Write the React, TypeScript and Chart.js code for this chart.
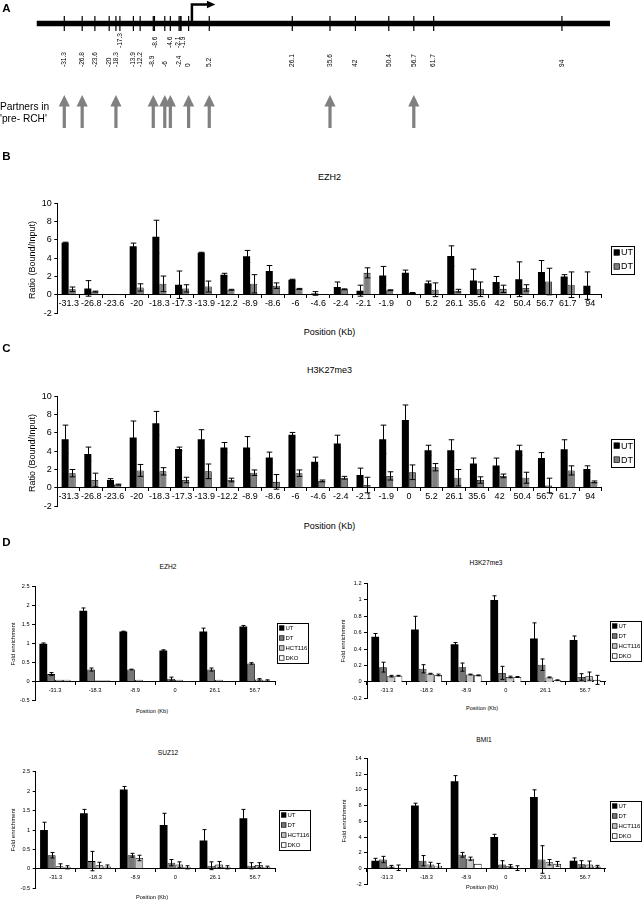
import React, { useEffect, useRef } from 'react';
import { Chart, registerables } from 'chart.js';
Chart.register(...registerables);

const FONT = '"Liberation Sans", Arial, Helvetica, sans-serif';

// ---------- Panel A : map ----------
const MAP_LABELS = ['-31.3','-26.8','-23.6','-20','-18.3','-17.3','-13.9','-12.2','-8.9','-8.6','-6','-4.6','-2.4','-2.1','-1.9','0','5.2','26.1','35.6','42','50.4','56.7','61.7','94'];
const MAP_POS = [-31.3,-26.8,-23.6,-20,-18.3,-17.3,-13.9,-12.2,-8.9,-8.6,-6,-4.6,-2.4,-2.1,-1.9,0,5.2,26.1,35.6,42,50.4,56.7,61.7,94];
const UPPER_ROW = ['-17.3','-8.6','-4.6','-2.1','-1.9'];
const PARTNERS = [-31.3,-26.8,-18.3,-8.9,-6,-4.6,0,5.2,35.6,56.7];
const MAP_START = -38.3;
const MAP_END = 106.1;

// ---------- Panel B : EZH2 ----------
const EZH2_UT = [5.7,0.7,0.03,5.3,6.35,1.1,4.6,2.2,4.2,2.6,1.65,0.15,0.85,0.45,2.1,2.4,1.25,4.25,1.55,1.4,1.7,2.5,2.0,1.0];
const EZH2_UT_ERR = [0.05,0.85,0,0.35,1.8,1.5,0.05,0.15,0.65,0.6,0.05,0.2,0.55,0.6,1.0,0.3,0.25,1.1,1.25,0.6,1.9,1.25,0.2,1.5];
const EZH2_DT = [0.6,0.35,0.03,0.8,1.2,0.7,0.9,0.55,1.2,1.0,0.65,0.02,0.6,2.4,0.5,0.2,0.55,0.45,0.6,0.65,0.75,1.45,1.1,0];
const EZH2_DT_ERR = [0.25,0.05,0,0.4,0.85,0.4,0.6,0.05,1.0,0.3,0.05,0,0.05,0.55,0.05,0.05,0.75,0.15,0.8,0.4,0.35,1.45,1.4,0];

// ---------- Panel C : H3K27me3 ----------
const H3_UT = [5.3,3.7,0.85,5.5,7.05,4.25,5.3,4.4,4.4,3.3,5.8,2.85,4.85,1.4,5.3,7.4,4.1,4.1,2.65,2.45,4.1,3.25,4.2,2.05];
const H3_UT_ERR = [1.55,0.75,0.15,1.8,1.3,0.2,1.05,0.55,1.2,0.6,0.25,0.5,0.9,0.75,1.55,1.65,0.55,1.15,0.6,0.8,0.55,0.6,1.05,0.35];
const H3_DT = [1.6,0.85,0.35,1.9,1.8,0.85,1.8,0.85,1.65,0.65,1.6,0.75,1.1,0.3,1.3,1.7,2.25,1.1,0.85,1.3,1.1,0.25,1.9,0.65];
const H3_DT_ERR = [0.4,0.75,0.05,0.65,0.4,0.3,0.8,0.2,0.3,0.8,0.35,0.1,0.15,0.85,0.45,0.8,0.4,0.9,0.35,0.2,0.6,0.8,0.5,0.1];

// ---------- Panel D ----------
const D_LABELS = ['-31.3','-18.3','-8.9','0','26.1','56.7'];
const D_SERIES = ['UT','DT','HCT116','DKO'];

const D_EZH2_UT = [1.0,1.87,1.32,0.82,1.32,1.45];
const D_EZH2_UT_ERR = [0.02,0.07,0.01,0.02,0.09,0.03];
const D_EZH2_DT = [0.2,0.32,0.32,0.08,0.32,0.48];
const D_EZH2_DT_ERR = [0.04,0.04,0.01,0.04,0.04,0.02];
const D_EZH2_HCT = [0.05,0.03,0.05,0.05,0.05,0.06];
const D_EZH2_HCT_ERR = [0,0,0,0,0,0.02];
const D_EZH2_DKO = [0.05,0.03,0.01,0.02,0.01,0.03];
const D_EZH2_DKO_ERR = [0,0,0,0,0,0.02];

const D_H3_UT = [0.55,0.64,0.46,1.0,0.53,0.51];
const D_H3_UT_ERR = [0.04,0.16,0.02,0.05,0.19,0.05];
const D_H3_DT = [0.18,0.16,0.18,0.11,0.21,0.06];
const D_H3_DT_ERR = [0.06,0.05,0.05,0.08,0.07,0.04];
const D_H3_HCT = [0.07,0.1,0.09,0.06,0.055,0.07];
const D_H3_HCT_ERR = [0.01,0.005,0.005,0.01,0.005,0.05];
const D_H3_DKO = [0.075,0.085,0.08,0.06,0.02,0.025];
const D_H3_DKO_ERR = [0.005,0.01,0.005,0.005,0.005,0.055];

const D_SUZ_UT = [1.0,1.43,2.04,1.13,0.73,1.3];
const D_SUZ_UT_ERR = [0.2,0.1,0.08,0.3,0.28,0.23];
const D_SUZ_DT = [0.35,0.2,0.35,0.16,0.08,0.08];
const D_SUZ_DT_ERR = [0.07,0.25,0.05,0.08,0.1,0.08];
const D_SUZ_HCT = [0.07,0.09,0.28,0.11,0.11,0.1];
const D_SUZ_HCT_ERR = [0.06,0.08,0.07,0.07,0.08,0.06];
const D_SUZ_DKO = [0.04,0.06,0.02,0.04,0.04,0.04];
const D_SUZ_DKO_ERR = [0.04,0.04,0,0.04,0.04,0.03];

const D_BMI_UT = [1.0,8.0,11.1,4.0,9.1,1.0];
const D_BMI_UT_ERR = [0.3,0.3,0.7,0.35,0.9,0.35];
const D_BMI_DT = [1.15,1.0,1.75,0.5,1.15,0.55];
const D_BMI_DT_ERR = [0.4,0.65,0.3,0.5,1.75,0.45];
const D_BMI_HCT = [0.25,0.5,1.25,0.3,0.8,0.5];
const D_BMI_HCT_ERR = [0.15,0.3,0.2,0.2,0.35,0.45];
const D_BMI_DKO = [0.1,0.35,0.6,0.05,0.6,0.25];
const D_BMI_DKO_ERR = [0.35,0.3,0,0.3,0.3,0.15];

// ---------- plugins ----------
const errorBarsPlugin = {
  id: 'errorBars',
  afterDatasetsDraw(chart: any, _a: any, opts: any) {
    const ctx = chart.ctx;
    const ys = chart.scales.y;
    ctx.save();
    ctx.strokeStyle = opts.color || '#000';
    ctx.lineWidth = opts.lineWidth || 1;
    chart.data.datasets.forEach((ds: any, di: number) => {
      const errs = ds.errors;
      if (!errs) return;
      const meta = chart.getDatasetMeta(di);
      meta.data.forEach((bar: any, i: number) => {
        const e = errs[i];
        if (!e) return;
        const v = ds.data[i];
        const x = Math.round(bar.x) + 0.5;
        const yt = ys.getPixelForValue(v + e);
        const yb = ys.getPixelForValue(v - e);
        const c = opts.cap;
        ctx.beginPath();
        ctx.moveTo(x, yt); ctx.lineTo(x, yb);
        ctx.moveTo(x - c, yt); ctx.lineTo(x + c, yt);
        ctx.moveTo(x - c, yb); ctx.lineTo(x + c, yb);
        ctx.stroke();
      });
    });
    ctx.restore();
  },
};

const boxLegendPlugin = {
  id: 'boxLegend',
  afterDraw(chart: any, _a: any, o: any) {
    const ctx = chart.ctx;
    ctx.save();
    ctx.lineWidth = 1;
    ctx.strokeStyle = '#000';
    ctx.strokeRect(Math.round(o.x) + 0.5, Math.round(o.y) + 0.5, o.w, o.h);
    const n = chart.data.datasets.length;
    const step = o.h / n;
    ctx.font = `${o.fontSize}px ${FONT}`;
    ctx.textBaseline = 'middle';
    ctx.textAlign = 'left';
    chart.data.datasets.forEach((ds: any, i: number) => {
      const cy = o.y + step * (i + 0.5);
      const sx = o.x + o.padX;
      ctx.fillStyle = ds.backgroundColor;
      ctx.fillRect(sx, cy - o.swatch / 2, o.swatch, o.swatch);
      ctx.lineWidth = 0.7;
      ctx.strokeRect(sx, cy - o.swatch / 2, o.swatch, o.swatch);
      ctx.fillStyle = '#000';
      ctx.fillText(ds.label, sx + o.swatch + 1.5, cy + 0.5);
    });
    ctx.restore();
  },
};

const geneMapPlugin = {
  id: 'geneMap',
  afterDatasetsDraw(chart: any) {
    const ctx = chart.ctx;
    const xs = chart.scales.x;
    ctx.save();
    // transcription start arrow
    const x0 = xs.getPixelForValue(0) + 3.3;
    ctx.strokeStyle = '#000';
    ctx.lineWidth = 2.5;
    ctx.beginPath();
    ctx.moveTo(x0, 21.5);
    ctx.lineTo(x0, 4.5);
    ctx.lineTo(x0 + 16, 4.5);
    ctx.stroke();
    ctx.fillStyle = '#000';
    ctx.beginPath();
    ctx.moveTo(x0 + 15, 0.8);
    ctx.lineTo(x0 + 23.5, 4.5);
    ctx.lineTo(x0 + 15, 8.2);
    ctx.closePath();
    ctx.fill();
    // position labels
    ctx.font = `6.6px ${FONT}`;
    ctx.textAlign = 'left';
    ctx.textBaseline = 'middle';
    const nudge: Record<string, number> = { '-2.1': -2.2, '-1.9': 2.2, '-8.9': -1, '-8.6': 1 };
    MAP_POS.forEach((p, i) => {
      const lab = MAP_LABELS[i];
      const upper = UPPER_ROW.indexOf(lab) >= 0;
      const x = xs.getPixelForValue(p) + (nudge[lab] || 0);
      ctx.save();
      ctx.translate(x, upper ? 48 : 67);
      ctx.rotate(-Math.PI / 2);
      ctx.fillText(lab, 0, 0);
      ctx.restore();
    });
    // partner arrows
    ctx.fillStyle = '#808080';
    PARTNERS.forEach((p) => {
      const x = xs.getPixelForValue(p);
      ctx.fillRect(x - 1.6, 105, 3.2, 23);
      ctx.beginPath();
      ctx.moveTo(x - 5.6, 106.5);
      ctx.lineTo(x, 95);
      ctx.lineTo(x + 5.6, 106.5);
      ctx.closePath();
      ctx.fill();
    });
    ctx.restore();
  },
};

function fmt(v: any) {
  return String(+Number(v).toFixed(2));
}

// ---------- configs ----------
function mapConfig() {
  return {
    type: 'scatter',
    data: {
      datasets: [
        {
          type: 'line',
          data: [{ x: MAP_START, y: 0 }, { x: MAP_END, y: 0 }],
          borderColor: '#000',
          borderWidth: 5.5,
          pointRadius: 0,
          showLine: true,
        },
        {
          type: 'scatter',
          data: MAP_POS.map((p) => ({ x: p, y: 0 })),
          pointStyle: 'line',
          rotation: 90,
          pointRadius: 7.5,
          borderColor: '#000',
          backgroundColor: '#000',
          borderWidth: 1.2,
        },
      ],
    },
    options: {
      animation: false,
      responsive: false,
      devicePixelRatio: 1,
      events: [],
      layout: { autoPadding: false, padding: { left: 36.5, right: 33, top: 13.5, bottom: 131.5 } },
      plugins: { legend: { display: false }, tooltip: { enabled: false } },
      scales: {
        x: { type: 'linear', min: MAP_START, max: MAP_END, display: false },
        y: { min: -1, max: 1, display: false },
      },
    },
    plugins: [geneMapPlugin],
  };
}

type BarOpts = {
  labels: string[];
  series: { label: string; data: number[]; errors: number[]; color: string }[];
  min: number; max: number; step: number;
  yWidth: number; pad: { top: number; right: number; bottom: number };
  tickSize: number; xPad: number; catPct: number; cap: number;
  legend: { x: number; y: number; w: number; h: number; fontSize: number; swatch: number; padX: number };
};

function barConfig(o: BarOpts) {
  return {
    type: 'bar',
    data: {
      labels: o.labels,
      datasets: o.series.map((s) => ({
        label: s.label,
        data: s.data,
        errors: s.errors,
        backgroundColor: s.color,
        borderColor: '#000',
        borderWidth: s.color === '#000000' ? 0 : 0.8,
        categoryPercentage: o.catPct,
        barPercentage: 1,
      })),
    },
    options: {
      animation: false,
      responsive: false,
      devicePixelRatio: 1,
      events: [],
      layout: { autoPadding: false, padding: { left: 0, top: o.pad.top, right: o.pad.right, bottom: o.pad.bottom } },
      plugins: {
        legend: { display: false },
        tooltip: { enabled: false },
        title: { display: false },
        errorBars: { cap: o.cap, color: '#000', lineWidth: 1 },
        boxLegend: o.legend,
      },
      scales: {
        x: {
          type: 'category',
          position: { y: 0 },
          offset: true,
          grid: { display: true, offset: true, drawOnChartArea: false, drawTicks: true, tickLength: 3, color: '#000', lineWidth: 1 },
          border: { display: true, color: '#000', width: 1 },
          ticks: { font: { size: o.tickSize, family: FONT }, color: '#000', padding: o.xPad, maxRotation: 0, minRotation: 0, autoSkip: false },
          afterFit: (s: any) => { s.height = 0; },
        },
        y: {
          min: o.min,
          max: o.max,
          ticks: { stepSize: o.step, font: { size: o.tickSize, family: FONT }, color: '#000', padding: 2.5, callback: (v: any) => fmt(v) },
          grid: { drawOnChartArea: false, drawTicks: true, tickLength: 3, color: '#000', lineWidth: 1 },
          border: { display: true, color: '#000', width: 1 },
          afterFit: (s: any) => { s.width = o.yWidth; },
        },
      },
    },
    plugins: [errorBarsPlugin, boxLegendPlugin],
  };
}

function ChartBox({ left, top, width, height, make }: { left: number; top: number; width: number; height: number; make: () => any }) {
  const ref = useRef<HTMLCanvasElement | null>(null);
  useEffect(() => {
    if (!ref.current) return;
    const chart = new Chart(ref.current, make());
    return () => chart.destroy();
  }, []);
  return (
    <canvas
      ref={ref}
      width={width}
      height={height}
      style={{ position: 'absolute', left, top, width, height, display: 'block' }}
    />
  );
}

function T({ x, y, size, children, rotate, bold, left }: { x: number; y: number; size: number; children: any; rotate?: boolean; bold?: boolean; left?: boolean }) {
  const tf = left ? 'translate(0,-50%)' : 'translate(-50%,-50%)' + (rotate ? ' rotate(-90deg)' : '');
  return (
    <div
      style={{
        position: 'absolute', left: x, top: y, transform: tf, fontSize: size,
        fontWeight: bold ? 'bold' : 'normal', whiteSpace: 'nowrap', lineHeight: 1, color: '#000', fontFamily: FONT,
      }}
    >
      {children}
    </div>
  );
}

const BLACK = '#000000';
const GREY = '#808080';
const DGREY = '#767676';
const LGREY = '#c4c4c4';
const WHITE = '#ffffff';

function bigPanel(ut: number[], utErr: number[], dt: number[], dtErr: number[], legendTop: number) {
  return () =>
    barConfig({
      labels: MAP_LABELS,
      series: [
        { label: 'UT', data: ut, errors: utErr, color: BLACK },
        { label: 'DT', data: dt, errors: dtErr, color: GREY },
      ],
      min: -2, max: 10, step: 2,
      yWidth: 57.3,
      pad: { top: 13.3, right: 41.3, bottom: 5.3 },
      tickSize: 9, xPad: 0.5, catPct: 0.62, cap: 2.8,
      legend: { x: 611, y: legendTop, w: 23, h: 28, fontSize: 9, swatch: 5.5, padX: 3 },
    });
}

function smallPanel(
  vals: number[][], errs: number[][], min: number, max: number, step: number,
  yWidth: number, pad: { top: number; right: number; bottom: number },
  legend: { x: number; y: number }
) {
  const colors = [BLACK, DGREY, LGREY, WHITE];
  return () =>
    barConfig({
      labels: D_LABELS,
      series: D_SERIES.map((s, i) => ({ label: s, data: vals[i], errors: errs[i], color: colors[i] })),
      min, max, step, yWidth, pad,
      tickSize: 5.6, xPad: 2.5, catPct: 0.78, cap: 2,
      legend: { x: legend.x, y: legend.y, w: 31, h: 40, fontSize: 6, swatch: 4.5, padX: 2.5 },
    });
}

export default function App() {
  return (
    <div style={{ position: 'absolute', left: 0, top: 0, width: 643, height: 901, background: '#fff', overflow: 'hidden', fontFamily: FONT }}>
      <ChartBox left={0} top={0} width={643} height={165} make={mapConfig} />
      <ChartBox left={0} top={190} width={643} height={131}
        make={bigPanel(EZH2_UT, EZH2_UT_ERR, EZH2_DT, EZH2_DT_ERR, 245.5 - 190)} />
      <ChartBox left={0} top={383.4} width={643} height={131}
        make={bigPanel(H3_UT, H3_UT_ERR, H3_DT, H3_DT_ERR, 439 - 383.4)} />
      <ChartBox left={0} top={572} width={320} height={135}
        make={smallPanel(
          [D_EZH2_UT, D_EZH2_DT, D_EZH2_HCT, D_EZH2_DKO],
          [D_EZH2_UT_ERR, D_EZH2_DT_ERR, D_EZH2_HCT_ERR, D_EZH2_DKO_ERR],
          -0.5, 2.5, 0.5, 35, { top: 14.7, right: 45, bottom: 135 - 128.7 }, { x: 277, y: 623 - 572 })} />
      <ChartBox left={322} top={572} width={321} height={133}
        make={smallPanel(
          [D_H3_UT, D_H3_DT, D_H3_HCT, D_H3_DKO],
          [D_H3_UT_ERR, D_H3_DT_ERR, D_H3_HCT_ERR, D_H3_DKO_ERR],
          -0.2, 1.2, 0.2, 45, { top: 11.5, right: 38, bottom: 133 - 126.3 }, { x: 610 - 322, y: 621 - 572 })} />
      <ChartBox left={0} top={757} width={320} height={138}
        make={smallPanel(
          [D_SUZ_UT, D_SUZ_DT, D_SUZ_HCT, D_SUZ_DKO],
          [D_SUZ_UT_ERR, D_SUZ_DT_ERR, D_SUZ_HCT_ERR, D_SUZ_DKO_ERR],
          -0.5, 2.5, 0.5, 35.7, { top: 14.7, right: 45, bottom: 138 - 131.3 }, { x: 279, y: 810 - 757 })} />
      <ChartBox left={322} top={745} width={321} height={146}
        make={smallPanel(
          [D_BMI_UT, D_BMI_DT, D_BMI_HCT, D_BMI_DKO],
          [D_BMI_UT_ERR, D_BMI_DT_ERR, D_BMI_HCT_ERR, D_BMI_DKO_ERR],
          -2, 14, 2, 45, { top: 13.3, right: 38, bottom: 146 - 139.3 }, { x: 610 - 322, y: 801 - 745 })} />

      {/* panel letters */}
      <T x={6.5} y={8.5} size={11.5} bold>A</T>
      <T x={6.5} y={156.7} size={11.5} bold>B</T>
      <T x={6.5} y={348.5} size={11.5} bold>C</T>
      <T x={6.5} y={543} size={11.5} bold>D</T>

      <T x={0} y={106.7} size={10.2} left>Partners in</T>
      <T x={0} y={119.2} size={10.2} left>'pre- RCH'</T>

      {/* B */}
      <T x={329.5} y={176.6} size={9}>EZH2</T>
      <T x={31.5} y={259.5} size={9} rotate>Ratio (Bound/Input)</T>
      <T x={329.5} y={331.5} size={9}>Position (Kb)</T>

      {/* C */}
      <T x={329.5} y={370} size={9}>H3K27me3</T>
      <T x={31.5} y={453} size={9} rotate>Ratio (Bound/Input)</T>
      <T x={329.5} y={526} size={9}>Position (Kb)</T>

      {/* D */}
      <T x={168} y={567} size={6.6}>EZH2</T>
      <T x={12.7} y={643.7} size={6} rotate>Fold enrichment</T>
      <T x={152} y={711.7} size={5.6}>Position (Kb)</T>

      <T x={486} y={563.3} size={6.6}>H3K27me3</T>
      <T x={343.3} y={641} size={6} rotate>Fold enrichment</T>
      <T x={482} y={709} size={5.6}>Position (Kb)</T>

      <T x={168} y={753.3} size={6.6}>SUZ12</T>
      <T x={12.7} y={830} size={6} rotate>Fold enrichment</T>
      <T x={152} y={898} size={5.6}>Position (Kb)</T>

      <T x={484} y={740} size={6.6}>BMI1</T>
      <T x={343.7} y={821.3} size={6} rotate>Fold enrichment</T>
      <T x={482} y={887.7} size={5.6}>Position (Kb)</T>
    </div>
  );
}
